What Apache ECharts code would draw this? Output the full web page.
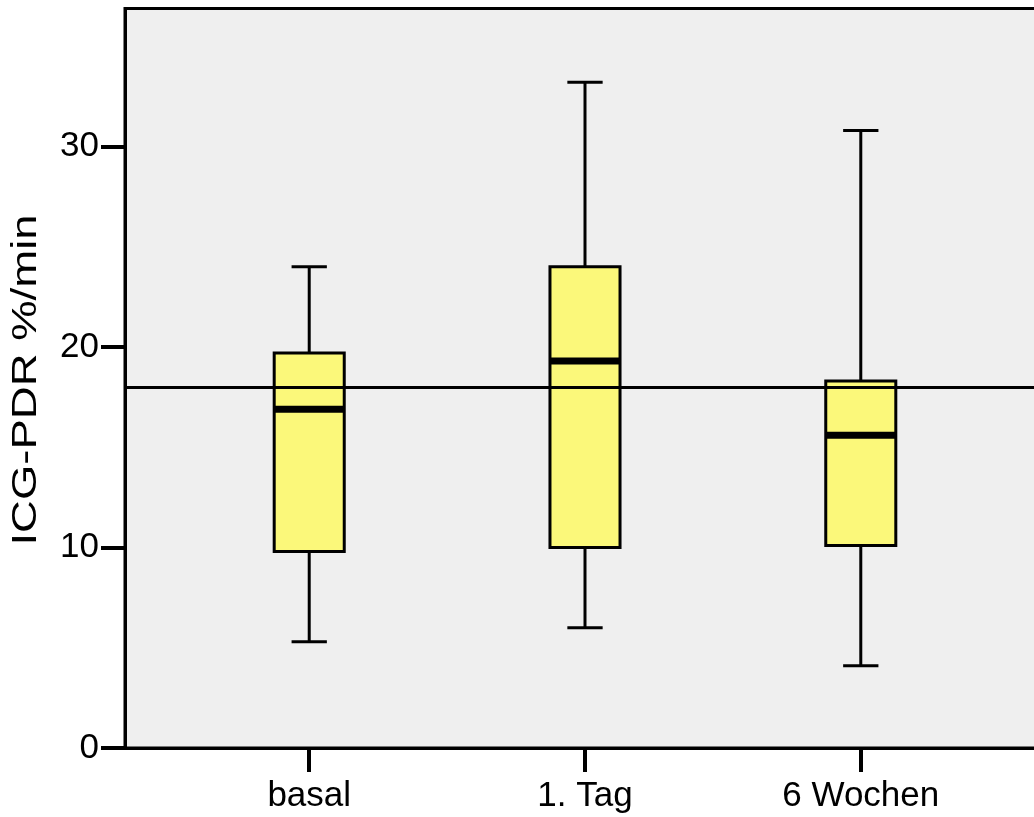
<!DOCTYPE html>
<html>
<head>
<meta charset="utf-8">
<script src="https://cdn.jsdelivr.net/npm/echarts@6/dist/echarts.min.js"></script>
<style>
html, body { margin: 0; padding: 0; background: #fff; overflow: hidden; width: 1034px; height: 817px; }
#chart { width: 1060px; height: 817px; }
</style>
</head>
<body>
<div id="chart"></div>
<script>
const categories = ['basal', '1. Tag', '6 Wochen'];
const whiskerLow = [5.3, 6.0, 4.1];
const q1 = [9.8, 10.0, 10.1];
const median = [16.9, 19.3, 15.6];
const q3 = [19.7, 24.0, 18.3];
const whiskerHigh = [24.0, 33.2, 30.8];
const referenceValue = 18;
const yTicks = [0, 10, 20, 30];
const yTitle = 'ICG-PDR %/min';

const xPositions = categories.map((_, i) => i + 1);
const boxData = categories.map((_, i) => [xPositions[i], whiskerLow[i], q1[i], median[i], q3[i], whiskerHigh[i]]);

const FONT = 'Liberation Sans, Arial, sans-serif';
const chart = echarts.init(document.getElementById('chart'), null, { renderer: 'canvas' });

function renderBox(params, api) {
  const x = api.value(0);
  const unit = api.size([1, 0])[0];
  const halfBox = unit * 0.127;
  const halfCap = unit * 0.064;
  const pLow = api.coord([x, api.value(1)]);
  const pQ1 = api.coord([x, api.value(2)]);
  const pMed = api.coord([x, api.value(3)]);
  const pQ3 = api.coord([x, api.value(4)]);
  const pHigh = api.coord([x, api.value(5)]);
  const cx = pLow[0];
  const stroke = { stroke: '#000', lineWidth: 3 };
  return {
    type: 'group',
    children: [
      { type: 'line', shape: { x1: cx, y1: pLow[1], x2: cx, y2: pQ1[1] }, style: stroke },
      { type: 'line', shape: { x1: cx, y1: pQ3[1], x2: cx, y2: pHigh[1] }, style: stroke },
      { type: 'line', shape: { x1: cx - halfCap, y1: pLow[1], x2: cx + halfCap, y2: pLow[1] }, style: stroke },
      { type: 'line', shape: { x1: cx - halfCap, y1: pHigh[1], x2: cx + halfCap, y2: pHigh[1] }, style: stroke },
      { type: 'rect', shape: { x: cx - halfBox, y: pQ3[1], width: 2 * halfBox, height: pQ1[1] - pQ3[1] },
        style: { fill: '#fbf87a', stroke: '#000', lineWidth: 3 } },
      { type: 'line', shape: { x1: cx - halfBox, y1: pMed[1], x2: cx + halfBox, y2: pMed[1] },
        style: { stroke: '#000', lineWidth: 7 } }
    ]
  };
}

const option = {
  animation: false,
  backgroundColor: '#ffffff',
  grid: {
    left: 125, top: 8.5, width: 920, height: 739.5,
    show: true, backgroundColor: '#efefef', borderColor: '#000', borderWidth: 3
  },
  xAxis: {
    type: 'value', min: 0.332, max: 3.668,
    splitLine: { show: false },
    axisLine: { show: true, onZero: false, lineStyle: { color: '#000', width: 3 } },
    axisTick: { show: true, customValues: xPositions, length: 24, lineStyle: { color: '#000', width: 4 } },
    axisLabel: {
      customValues: xPositions,
      formatter: v => categories[Math.round(v) - 1],
      color: '#000', fontSize: 35, fontFamily: FONT, margin: 31
    }
  },
  yAxis: {
    type: 'value', min: 0, max: 36.88,
    splitLine: { show: false },
    axisLine: { show: true, onZero: false, lineStyle: { color: '#000', width: 3 } },
    axisTick: { show: true, customValues: yTicks, length: 24, lineStyle: { color: '#000', width: 4 } },
    axisLabel: {
      customValues: yTicks,
      color: '#000', fontSize: 35, fontFamily: FONT, margin: 26,
      padding: [11, 0, 0, 0]
    }
  },
  graphic: [{
    type: 'text',
    x: 26, y: 380,
    rotation: Math.PI / 2,
    scaleX: 1.3,
    style: {
      text: yTitle, fill: '#000', font: '35px ' + FONT,
      align: 'center', verticalAlign: 'middle'
    }
  }],
  series: [
    {
      type: 'custom', z: 2,
      renderItem: renderBox,
      data: boxData,
      encode: { x: 0, y: [1, 2, 3, 4, 5] },
      silent: true
    },
    {
      type: 'line', z: 5, data: [], silent: true,
      markLine: {
        silent: true, symbol: ['none', 'none'], animation: false,
        label: { show: false },
        lineStyle: { color: '#000', width: 3, type: 'solid' },
        emphasis: { disabled: true },
        data: [{ yAxis: referenceValue }]
      }
    }
  ]
};
chart.setOption(option);
</script>
</body>
</html>
